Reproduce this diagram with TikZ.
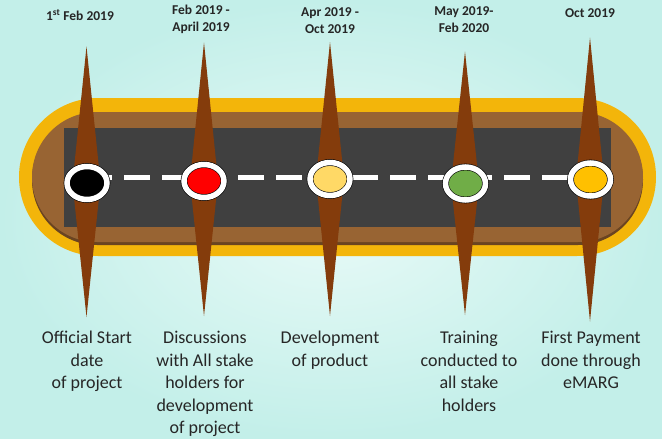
\documentclass[tikz,border=0pt]{standalone}
\usepackage{fontspec}
\setmainfont{Carlito}
\usepackage{tikz}
\usetikzlibrary{shapes.geometric}
\definecolor{bgin}{HTML}{E8FAF7}
\definecolor{bgout}{HTML}{C3EFE9}
\definecolor{rim}{HTML}{F3B50A}
\definecolor{earth}{HTML}{986433}
\definecolor{earthdark}{HTML}{6A4421}
\definecolor{asphalt}{HTML}{404040}
\definecolor{stake}{HTML}{843C0C}
\definecolor{txt}{HTML}{262626}
\definecolor{paleyellow}{HTML}{FFD966}
\definecolor{leaf}{HTML}{70AD47}
\definecolor{gold}{HTML}{FFC000}
\pgfdeclarelayer{front}
\pgfsetlayers{main,front}

\begin{document}
\begin{tikzpicture}[x = 1pt, y = -1pt]
	\tikzstyle{every node} = [text = txt, inner sep = 0pt]
	\tikzstyle{stop} = [ellipse, draw = black, line width = 0.6pt, double = white, double distance = 5.5pt, minimum width = 40pt, minimum height = 33pt]
	\tikzstyle{when} = [anchor = north, align = center, font = \fontsize{13.5}{17}\selectfont\bfseries]
	\tikzstyle{what} = [anchor = north, align = center, font = \fontsize{18}{22.5}\selectfont]
	\tikzstyle{lane} = [draw = white, line width = 5pt, dash pattern = on 26pt off 12pt, dash phase = 21pt]
\useasboundingbox (0,0) rectangle (662,439);
\shade[inner color = bgin, outer color = bgout] (0,0) rectangle (662,439);
% road
\fill[rim, rounded corners = 79pt] (19,98) rectangle (656,256);
\fill[earthdark, rounded corners = 65pt] (32,114.5) rectangle (643,245);
\fill[earth, rounded corners = 65pt] (32,112) rectangle (643,242);
\fill[asphalt] (64,128) rectangle (611,227);
\coordinate (mid) at (0, 177.5);
% stakes
\fill[stake] (86.5,46.5) -- (100.5,183) -- (86.5,317) -- (72.5,183) -- cycle;
\fill[stake] (204,42.5) -- (218,181) -- (204,316) -- (190,181) -- cycle;
\fill[stake] (330,42) -- (344,179) -- (330,316) -- (316,179) -- cycle;
\fill[stake] (465,51.5) -- (479,183.5) -- (465,315) -- (451,183.5) -- cycle;
\fill[stake] (590,37.5) -- (604,179.5) -- (590,321.5) -- (576,179.5) -- cycle;
% stops
\begin{pgfonlayer}{front}
\node[stop, fill = black] (1) at (87, 183) {};
\node[stop, fill = red] (2) at (204, 181) {};
\node[stop, fill = paleyellow] (3) at (330, 179) {};
\node[stop, fill = leaf] (4) at (465.5, 183.5) {};
\node[stop, fill = gold] (5) at (590.5, 179.5) {};
\end{pgfonlayer}
	\path[lane] (1.east |- mid) -- (5.west |- mid);
% dates
\node[when] (t1) at (80, 9) {1\textsuperscript{st} Feb 2019};
\node[when] (t2) at (201, 4.5) {Feb 2019 -\\April 2019};
\node[when] (t3) at (330, 7.5) {Apr 2019 -\\Oct 2019};
\node[when] (t4) at (464, 6.5) {May 2019-\\Feb 2020};
\node[when] (t5) at (590, 8) {Oct 2019};
% tasks
\node[what] (b1) at (87, 331) {Official Start\\date\\of project};
\node[what] (b2) at (205, 331) {Discussions\\with All stake\\holders for\\development\\of project};
\node[what] (b3) at (330, 331) {Development\\of product};
\node[what] (b4) at (469, 331) {Training\\conducted to\\all stake\\holders};
\node[what] (b5) at (591, 331) {First Payment\\done through\\eMARG};
	\end{tikzpicture}
\end{document}
